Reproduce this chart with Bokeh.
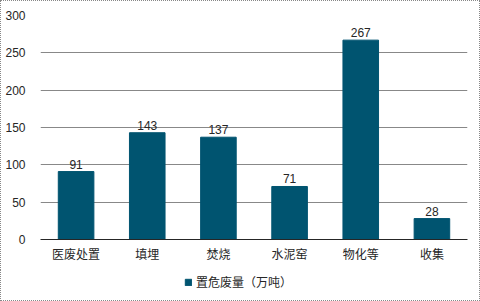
from bokeh.plotting import figure
from bokeh.layouts import column
from bokeh.models import ColumnDataSource, Range1d, LabelSet, Legend, LegendItem, FixedTicker
from bokeh.core.properties import value
from bokeh.embed import file_html
from bokeh.resources import INLINE

categories = ["医废处置", "填埋", "焚烧", "水泥窑", "物化等", "收集"]
values = [91, 143, 137, 71, 267, 28]
series_name = "置危废量（万吨）"
y_ticks = [0, 50, 100, 150, 200, 250, 300]

FONT = "Liberation Sans, Noto Sans CJK SC"
BAR = "#005470"
TXT = "#262626"
BORDER = "1px dotted #888888"

src = ColumnDataSource(dict(cat=categories, val=values, lab=[str(v) for v in values]))

p = figure(width=480, height=270, x_range=categories, y_range=Range1d(0, 300),
           output_backend="svg", toolbar_location=None,
           min_border_left=39, min_border_right=14, min_border_top=14, min_border_bottom=32)
p.styles = {"border-top": BORDER, "border-left": BORDER, "border-right": BORDER,
            "box-sizing": "border-box"}
p.outline_line_color = None
p.background_fill_color = "white"

r = p.vbar(x="cat", top="val", width=0.5, source=src, color=BAR)

labels = LabelSet(x="cat", y="val", text="lab", source=src, text_align="center",
                  text_baseline="bottom", y_offset=3, text_font=value(FONT),
                  text_font_size="12px", text_color=TXT)
p.add_layout(labels)

p.xgrid.grid_line_color = None
p.ygrid.grid_line_color = "#888888"
p.ygrid.grid_line_width = 1
p.ygrid.ticker = FixedTicker(ticks=y_ticks)

p.yaxis.ticker = FixedTicker(ticks=y_ticks)
p.yaxis.axis_line_color = None
p.yaxis.major_tick_line_color = None
p.yaxis.minor_tick_line_color = None
p.yaxis.major_label_text_font = FONT
p.yaxis.major_label_text_font_size = "12px"
p.yaxis.major_label_text_color = TXT
p.yaxis.major_label_standoff = 9

p.xaxis.axis_line_color = TXT
p.xaxis.axis_line_width = 1
p.xaxis.major_tick_line_color = None
p.xaxis.minor_tick_line_color = None
p.xaxis.major_label_text_font = FONT
p.xaxis.major_label_text_font_size = "12px"
p.xaxis.major_label_text_color = TXT
p.xaxis.major_label_standoff = 2

# legend strip below the chart; its bars lie outside its visible range
leg_fig = figure(width=480, height=31, output_backend="svg", toolbar_location=None,
                 x_range=categories, y_range=Range1d(1000, 1001),
                 x_axis_type=None, y_axis_type=None,
                 min_border_left=0, min_border_right=0, min_border_top=0, min_border_bottom=0)
leg_fig.styles = {"border-bottom": BORDER, "border-left": BORDER, "border-right": BORDER,
                  "box-sizing": "border-box"}
leg_fig.outline_line_color = None
leg_fig.xgrid.grid_line_color = None
leg_fig.ygrid.grid_line_color = None
leg_r = leg_fig.vbar(x="cat", top="val", width=0.5, source=src, color=BAR)

legend = Legend(items=[LegendItem(label=series_name, renderers=[leg_r])],
                location=(144, 11), orientation="horizontal",
                label_text_font=FONT, label_text_font_size="12px",
                label_text_color=TXT, border_line_color=None,
                glyph_width=8, glyph_height=8, label_standoff=4,
                padding=0, margin=0, spacing=0, label_height=14,
                background_fill_alpha=0)
leg_fig.add_layout(legend, "center")

layout = column(p, leg_fig, spacing=0)
open("out.html", "w").write(file_html(layout, INLINE))
